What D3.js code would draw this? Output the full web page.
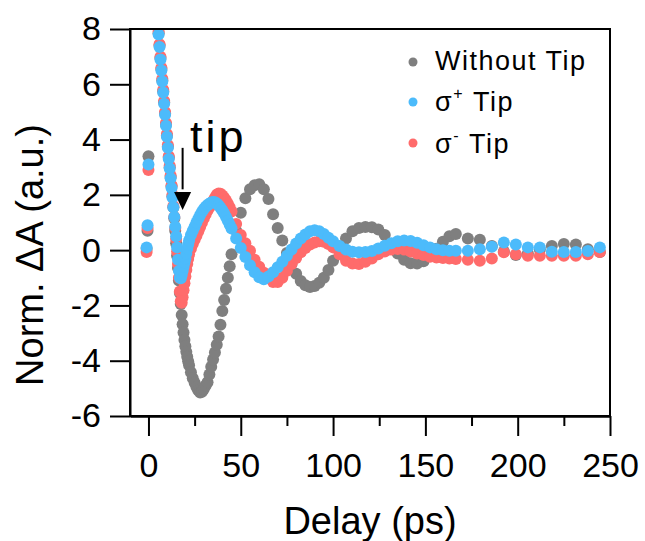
<!DOCTYPE html>
<html>
<head>
<meta charset="utf-8">
<script src="https://cdn.jsdelivr.net/npm/d3@7"></script>
<style>
  body { margin: 0; background: #fff; }
  svg { display: block; }
  text { font-family: "Liberation Sans", Arial, sans-serif; fill: #000; }
</style>
</head>
<body>
<svg id="chart" width="645" height="541"></svg>
<script>
// Pump-probe delay (ps), shared by all three traces
const delays = [
  -1, -0.5, 0,
  5, 5.5, 6, 6.5, 7, 7.5, 8, 8.5, 9, 9.5, 10, 10.5, 11, 11.5, 12, 12.5, 13, 13.5, 14, 14.5,
  15, 15.5, 16, 16.5, 17, 17.5, 18, 18.5, 19, 19.5, 20, 20.5, 21, 21.5, 22,
  23, 24, 25, 26, 27, 28, 29, 30, 31, 32, 33, 34, 35, 36, 37, 38, 39, 40, 41, 42, 43, 44, 45,
  47.5, 50, 52.5, 55, 57.5, 60, 62.5, 65, 67.5, 70, 72.5, 75, 77.5, 80, 82.5, 85, 87.5, 90, 92.5, 95, 97.5, 100,
  103.5, 107, 110.5, 114, 117.5, 121, 124.5, 128, 131.5, 135, 138.5, 142, 145.5, 149, 152.5, 156, 159.5, 163, 166.5,
  173, 179.5, 186, 192.5, 199, 205.5, 212, 218.5, 225, 231.5, 238, 244.5
];

// Normalised ΔA, without tip
const withoutTip = [
  0.05, 0.7, 3.4,
  8.25, 7.85, 7.4, 6.95, 6.55, 6.15, 5.75, 5.35, 4.95, 4.55, 4.15, 3.75, 3.35, 3.0, 2.65, 2.3, 1.95, 1.55, 1.15, 0.7,
  0.25, -0.2, -0.65, -1.1, -1.55, -1.95, -2.35, -2.68, -2.98, -3.25, -3.48, -3.68, -3.86, -4.02, -4.16,
  -4.42, -4.63, -4.8, -4.95, -5.07, -5.15, -5.12, -5.02, -4.9, -4.78, -4.5, -4.22, -3.96, -3.7, -3.42, -3.12, -2.7, -2.2, -1.8, -1.4, -1.0, -0.58, -0.15,
  0.7, 1.35, 1.88, 2.2, 2.35, 2.38, 2.2, 1.85, 1.3, 0.8, 0.35, -0.1, -0.5, -0.85, -1.12, -1.27, -1.33, -1.3, -1.18, -1.0, -0.72, -0.38,
  0.05, 0.42, 0.68, 0.8, 0.84, 0.83, 0.75, 0.55, 0.22, -0.12, -0.35, -0.47, -0.48, -0.4, -0.2, 0.05, 0.3, 0.5, 0.58,
  0.42, 0.38, 0.15, -0.05, -0.18, -0.12, 0.02, 0.15, 0.22, 0.2, 0.03, -0.07
];

// Normalised ΔA, σ+ tip
const sigmaPlusTip = [
  0.1, 0.9, 3.1,
  8.2, 7.8, 7.35, 6.9, 6.5, 6.1, 5.7, 5.3, 4.9, 4.5, 4.1, 3.7, 3.3, 2.95, 2.6, 2.25, 1.9, 1.55, 1.2, 0.85,
  0.5, 0.1, -0.35, -0.75, -1.0, -1.02, -0.9, -0.75, -0.6, -0.45, -0.3, -0.12, 0.05, 0.2, 0.35,
  0.55, 0.7, 0.85, 1.0, 1.14, 1.27, 1.39, 1.49, 1.57, 1.63, 1.68, 1.72, 1.74, 1.73, 1.69, 1.62, 1.53, 1.44, 1.33, 1.2, 1.06, 0.92, 0.78,
  0.42, 0.08, -0.25, -0.55, -0.8, -0.98, -1.05, -0.95, -0.8, -0.62, -0.42, -0.2, 0.02, 0.24, 0.42, 0.57, 0.68, 0.72, 0.68, 0.58, 0.45, 0.32,
  0.15, 0.02, -0.06, -0.08, -0.07, -0.03, 0.06, 0.16, 0.25, 0.32, 0.35, 0.33, 0.27, 0.18, 0.1, 0.03, 0.0, -0.02, -0.02,
  -0.02, 0.03, 0.12, 0.28, 0.2, 0.1, 0.1, -0.06, -0.07, -0.07, -0.03, 0.1
];

// Normalised ΔA, σ- tip
const sigmaMinusTip = [
  -0.07, 0.8, 2.9,
  8.3, 7.9, 7.45, 7.0, 6.6, 6.2, 5.8, 5.4, 5.0, 4.6, 4.2, 3.8, 3.4, 3.05, 2.7, 2.35, 2.0, 1.6, 1.2, 0.8,
  0.4, -0.05, -0.5, -1.0, -1.5, -1.85, -1.9, -1.7, -1.45, -1.2, -0.95, -0.72, -0.5, -0.32, -0.15,
  0.05, 0.22, 0.38, 0.52, 0.68, 0.84, 1.0, 1.15, 1.3, 1.43, 1.55, 1.66, 1.78, 1.9, 2.0, 2.05, 2.04, 1.98, 1.9, 1.8, 1.68, 1.55, 1.4,
  0.95, 0.55, 0.25, -0.02, -0.35, -0.6, -0.82, -1.0, -1.15, -1.15, -1.0, -0.75, -0.5, -0.28, -0.08, 0.08, 0.2, 0.28, 0.32, 0.3, 0.22, 0.1,
  -0.15, -0.38, -0.48, -0.5, -0.42, -0.3, -0.15, -0.05, 0.02, 0.04, 0.02, -0.05, -0.12, -0.18, -0.24, -0.27, -0.28, -0.3, -0.32,
  -0.35, -0.38, -0.3, -0.08, -0.15, -0.2, -0.2, -0.2, -0.2, -0.2, -0.15, -0.07
];

const xTicks = [0, 50, 100, 150, 200, 250];
const xMinorTicks = [25, 75, 125, 175, 225];
const yTicks = [-6, -4, -2, 0, 2, 4, 6, 8];

const seriesNames = ["Without Tip", "σ+ Tip", "σ- Tip"];
const seriesColors = ["#7f7f7f", "#4cbbfb", "#ff6b6b"];

const svg = d3.select("#chart");
const plot = { left: 130, right: 610, top: 29, bottom: 416 };

const x = d3.scaleLinear().domain([-10, 250]).range([plot.left, plot.right]);
const y = d3.scaleLinear().domain([-6, 8]).range([plot.bottom, plot.top]);

svg.append("defs").append("clipPath").attr("id", "plot-clip")
  .append("rect")
  .attr("x", plot.left).attr("y", plot.top)
  .attr("width", plot.right - plot.left).attr("height", plot.bottom - plot.top);

// Scatter traces: gray underneath, then σ-, then σ+ on top
const traces = [
  { values: withoutTip, color: seriesColors[0] },
  { values: sigmaMinusTip, color: seriesColors[2] },
  { values: sigmaPlusTip, color: seriesColors[1] }
];
const dots = svg.append("g").attr("clip-path", "url(#plot-clip)");
traces.forEach(tr => {
  dots.append("g")
    .selectAll("circle")
    .data(delays.map((d, i) => [d, tr.values[i]]))
    .join("circle")
    .attr("cx", d => x(d[0]))
    .attr("cy", d => y(d[1]))
    .attr("r", 6)
    .attr("fill", tr.color);
});

// Frame
svg.append("rect")
  .attr("x", plot.left).attr("y", plot.top)
  .attr("width", plot.right - plot.left).attr("height", plot.bottom - plot.top)
  .attr("fill", "none").attr("stroke", "#000").attr("stroke-width", 2);

// Axes (plain hyphen for negative labels)
const plainNumber = d => String(d);
const yAxis = svg.append("g")
  .attr("transform", `translate(${plot.left},0)`)
  .call(d3.axisLeft(y).tickValues(yTicks).tickSize(20).tickSizeOuter(0).tickPadding(9).tickFormat(plainNumber));
const xAxis = svg.append("g")
  .attr("transform", `translate(0,${plot.bottom})`)
  .call(d3.axisBottom(x).tickValues(xTicks).tickSize(20).tickSizeOuter(0).tickPadding(17).tickFormat(plainNumber));
const xMinor = svg.append("g")
  .attr("transform", `translate(0,${plot.bottom})`)
  .call(d3.axisBottom(x).tickValues(xMinorTicks).tickSize(10).tickSizeOuter(0).tickFormat(""));

[yAxis, xAxis, xMinor].forEach(g => {
  g.select(".domain").attr("stroke", "#000").attr("stroke-width", 2);
  g.selectAll(".tick line").attr("stroke", "#000").attr("stroke-width", 2);
  g.selectAll(".tick text")
    .attr("font-family", "'Liberation Sans', Arial, sans-serif")
    .attr("font-size", 34)
    .attr("fill", "#000");
});

// Axis titles
svg.append("text")
  .attr("x", (plot.left + plot.right) / 2)
  .attr("y", 534)
  .attr("text-anchor", "middle")
  .attr("font-size", 38)
  .text("Delay (ps)");

svg.append("text")
  .attr("transform", "translate(43,255) rotate(-90)")
  .attr("text-anchor", "middle")
  .attr("font-size", 38)
  .text("Norm. ΔA (a.u.)");

// Legend
const legendRows = [
  { color: seriesColors[0], base: "Without Tip", sup: null, cy: 62, by: 70 },
  { color: seriesColors[1], base: "σ", sup: "+", cy: 102, by: 111 },
  { color: seriesColors[2], base: "σ", sup: "-", cy: 143, by: 153 }
];
const legend = svg.append("g");
legendRows.forEach(r => {
  legend.append("circle").attr("cx", 413).attr("cy", r.cy).attr("r", 4.5).attr("fill", r.color);
  const t = legend.append("text").attr("x", 435).attr("y", r.by)
    .attr("font-size", 27).attr("letter-spacing", 1.5);
  if (r.sup === null) {
    t.text(r.base);
  } else {
    t.append("tspan").text(r.base);
    t.append("tspan").attr("font-size", 16).attr("dy", -12).text(r.sup);
    t.append("tspan").attr("dy", 12).text(" Tip");
  }
});

// "tip" annotation with arrow
const arrowDelay = 18.5;
svg.append("text")
  .attr("x", x(22.5)).attr("y", y(3.55))
  .attr("font-size", 45).attr("letter-spacing", 3)
  .text("tip");
svg.append("line")
  .attr("x1", x(arrowDelay)).attr("x2", x(arrowDelay))
  .attr("y1", y(3.7)).attr("y2", y(2.2))
  .attr("stroke", "#000").attr("stroke-width", 2);
const ax = x(arrowDelay), ayTip = y(1.45), ayBase = y(2.1);
svg.append("path")
  .attr("d", `M${ax - 8.5},${ayBase} L${ax + 8.5},${ayBase} L${ax},${ayTip} Z`)
  .attr("fill", "#000");
</script>
</body>
</html>
